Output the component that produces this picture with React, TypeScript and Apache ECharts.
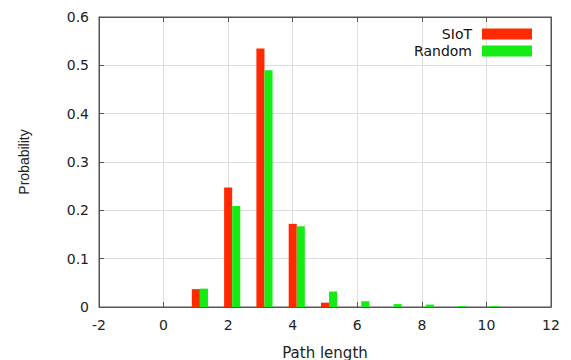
import React, { useEffect, useRef } from "react";
import * as echarts from "echarts";

const pathLengths = [1, 2, 3, 4, 5, 6, 7, 8, 9, 10];
const siotValues = [0.037, 0.247, 0.535, 0.172, 0.009, 0, 0, 0, 0, 0];
const randomValues = [0.038, 0.209, 0.49, 0.167, 0.032, 0.012, 0.006, 0.005, 0.002, 0.002];
const xTicks = { min: -2, max: 12, interval: 2 };
const yTicks = { min: 0, max: 0.6, interval: 0.1 };

const FONT = "DejaVu Sans";
const RED = "#ff2a00";
const GREEN = "#14ec14";
const BAR_W = 0.25;

function makeRender(offset: number, color: string) {
  return (params: any, api: any) => {
    const x = api.value(0) + offset;
    const y = api.value(1);
    if (!(y > 0)) return null;
    const p0 = api.coord([x - BAR_W / 2, y]);
    const p1 = api.coord([x + BAR_W / 2, 0]);
    return {
      type: "rect",
      shape: { x: p0[0], y: p0[1], width: p1[0] - p0[0], height: p1[1] - p0[1] },
      style: { fill: color },
    };
  };
}

export default function App() {
  const ref = useRef<HTMLDivElement>(null);
  useEffect(() => {
    if (!ref.current) return;
    const chart = echarts.init(ref.current, undefined, { renderer: "svg" });
    const axisLine = { show: true, onZero: false, lineStyle: { color: "#555", width: 1 } };
    const axisTick = { show: true, inside: true, length: 5, lineStyle: { color: "#555" } };
    chart.setOption({
      animation: false,
      backgroundColor: "#fff",
      grid: {
        left: 99,
        right: 20,
        top: 17,
        bottom: 53,
        outerBoundsMode: "none",
        containLabel: false,
        show: true,
        borderColor: "#555",
        borderWidth: 1,
        backgroundColor: "transparent",
      },
      legend: {
        orient: "vertical",
        right: 34,
        top: 22,
        align: "right",
        icon: "rect",
        itemWidth: 50,
        itemHeight: 11,
        itemGap: 3,
        textStyle: { fontFamily: FONT, fontSize: 14, color: "#111", padding: [0, 5, 0, 0] },
        data: ["SIoT", "Random"],
      },
      xAxis: [
        {
          type: "value",
          ...xTicks,
          name: "Path length",
          nameLocation: "middle",
          nameGap: 38,
          nameTextStyle: { fontFamily: FONT, fontSize: 15, color: "#222" },
          axisLine,
          axisTick,
          axisLabel: { fontFamily: FONT, fontSize: 14, color: "#222", margin: 11 },
          splitLine: { show: true, lineStyle: { color: "#ddd" } },
        },
        {
          type: "value",
          position: "top",
          ...xTicks,
          axisLine,
          axisTick,
          axisLabel: { show: false },
          splitLine: { show: false },
        },
      ],
      yAxis: [
        {
          type: "value",
          ...yTicks,
          name: "Probability",
          nameLocation: "middle",
          nameGap: 68,
          nameTextStyle: { fontFamily: "Liberation Sans Narrow, Liberation Sans", fontSize: 14, color: "#222" },
          axisLine,
          axisTick,
          axisLabel: { fontFamily: FONT, fontSize: 14, color: "#222", margin: 10 },
          splitLine: { show: true, lineStyle: { color: "#ddd" } },
        },
        {
          type: "value",
          position: "right",
          ...yTicks,
          axisLine,
          axisTick,
          axisLabel: { show: false },
          splitLine: { show: false },
        },
      ],
      series: [
        {
          name: "SIoT",
          type: "custom",
          renderItem: makeRender(0, RED),
          itemStyle: { color: RED },
          data: pathLengths.map((k, i) => [k, siotValues[i]]),
          encode: { x: 0, y: 1 },
        },
        {
          name: "Random",
          type: "custom",
          renderItem: makeRender(BAR_W, GREEN),
          itemStyle: { color: GREEN },
          data: pathLengths.map((k, i) => [k, randomValues[i]]),
          encode: { x: 0, y: 1 },
        },
      ],
    });
    return () => chart.dispose();
  }, []);
  return <div ref={ref} style={{ width: 571, height: 360, position: "absolute", left: 0, top: 0 }} />;
}
